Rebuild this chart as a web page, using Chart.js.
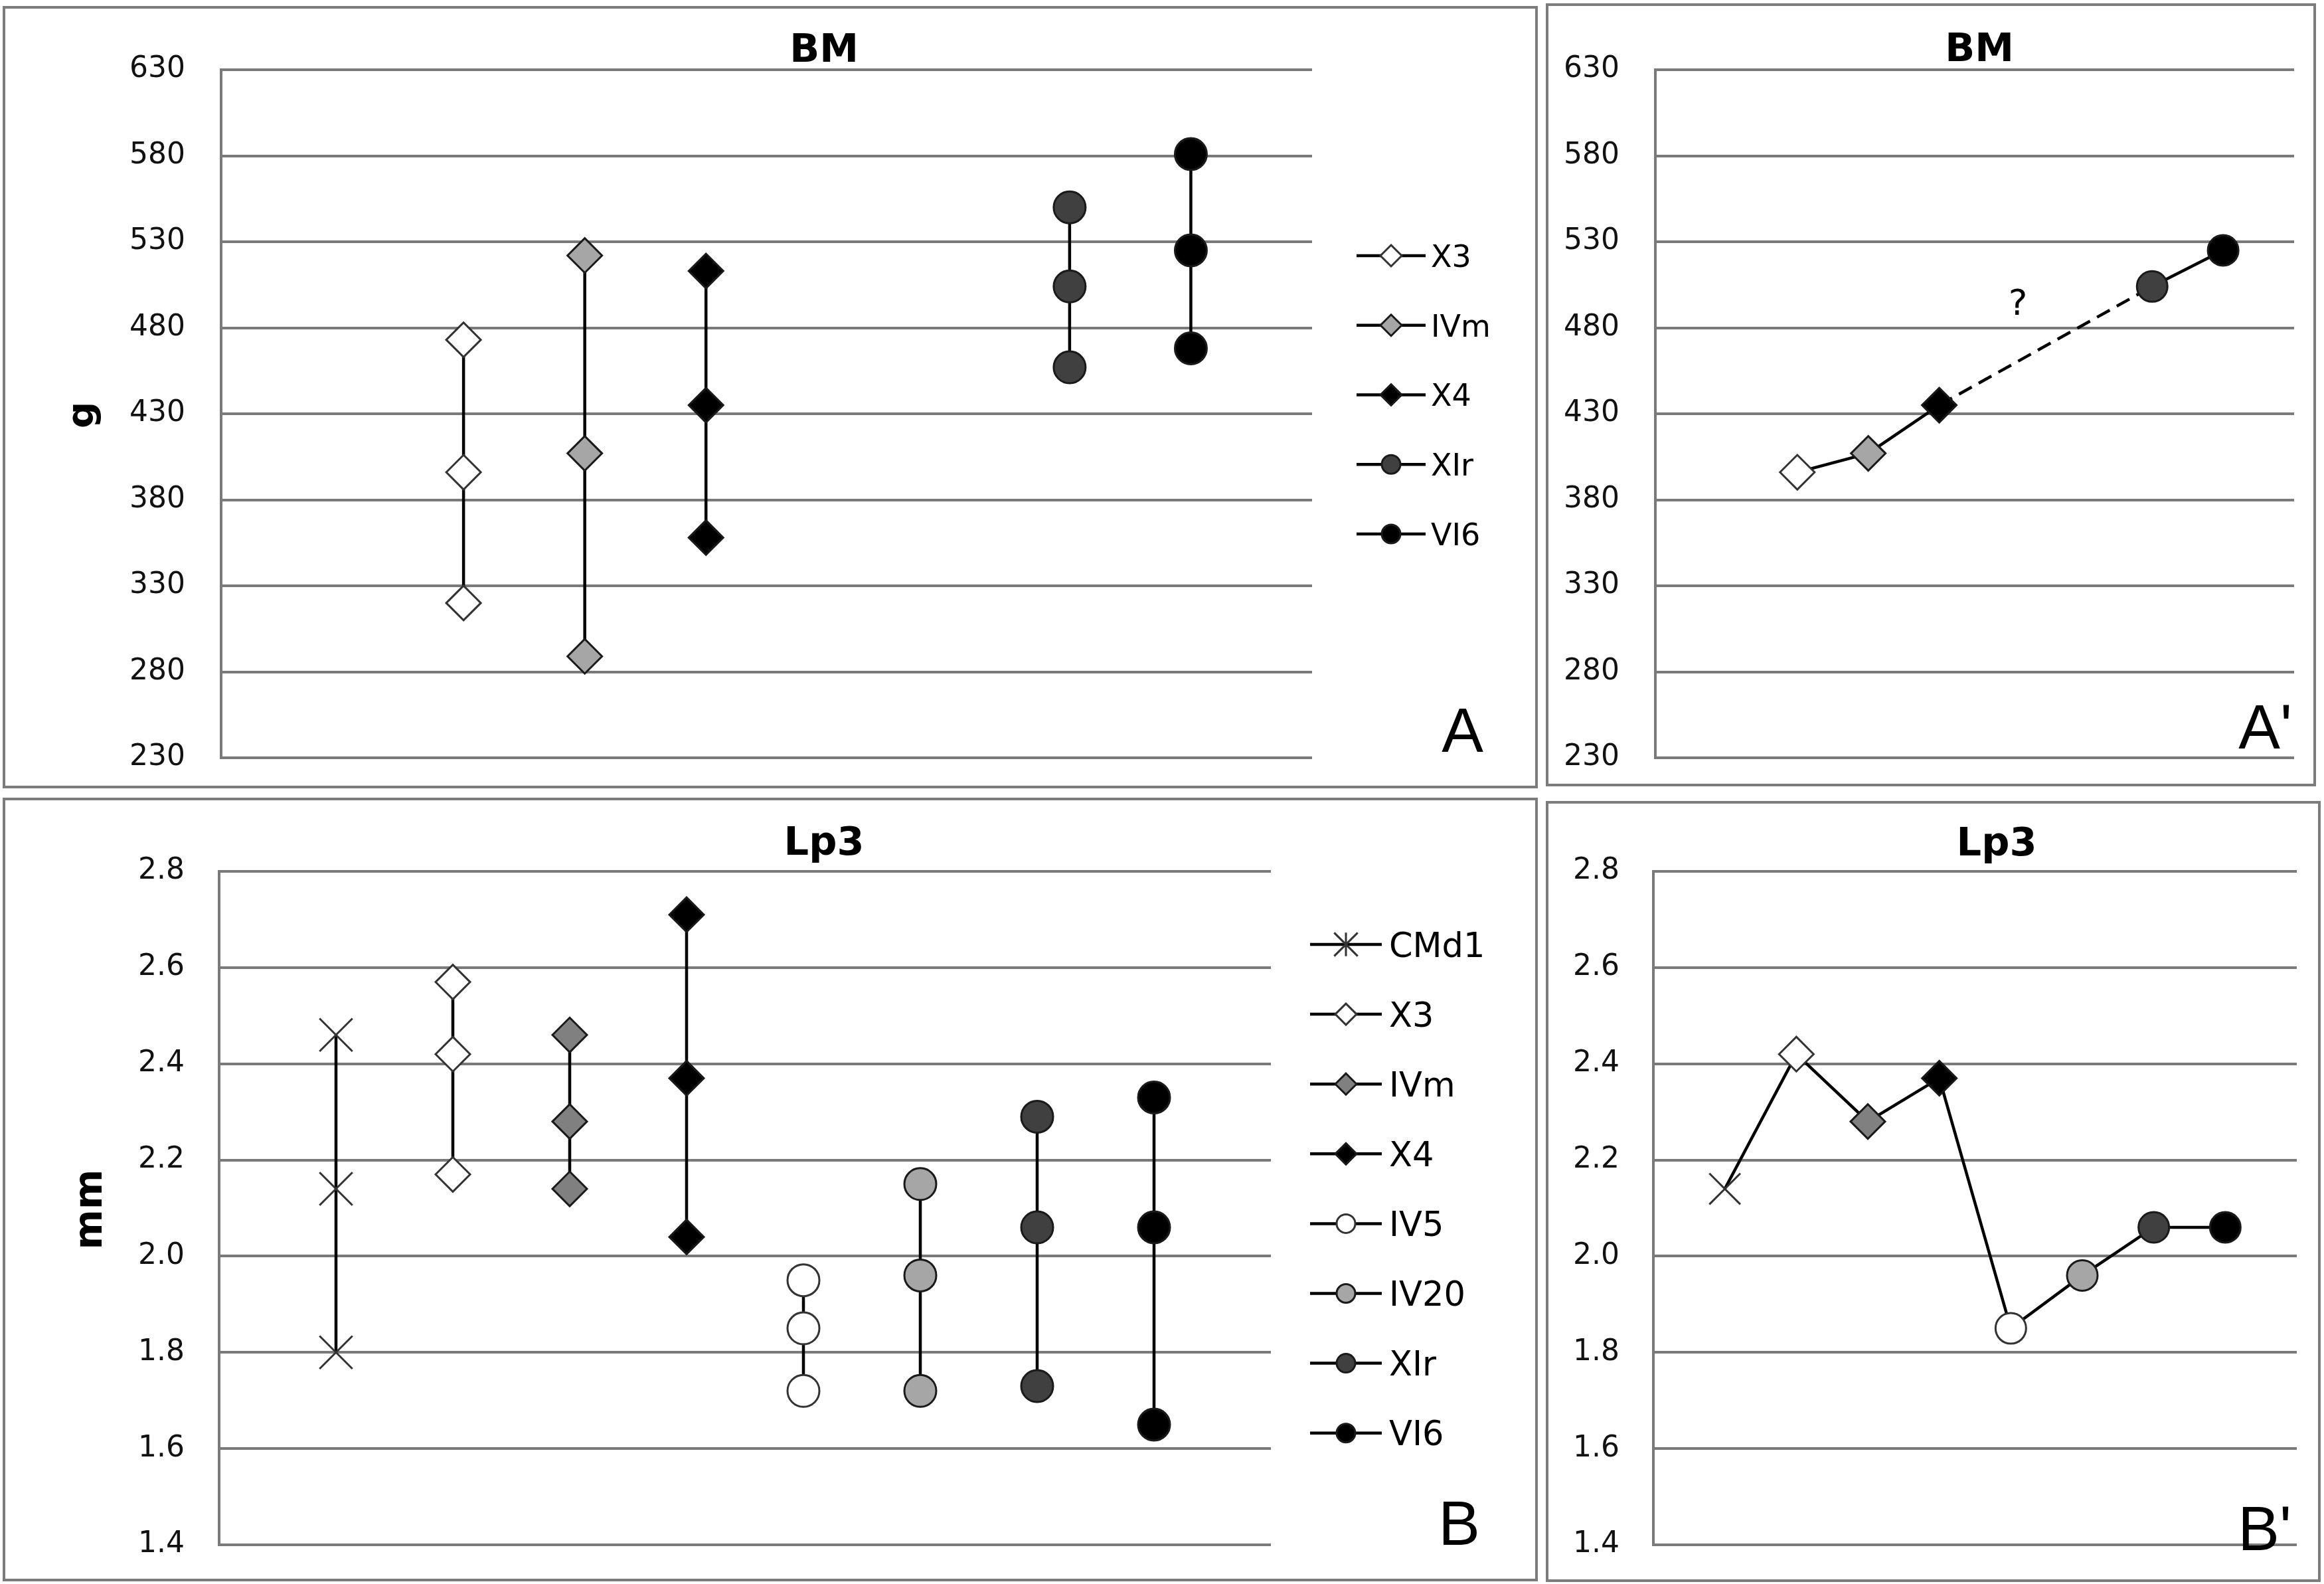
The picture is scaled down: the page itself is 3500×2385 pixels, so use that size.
<!DOCTYPE html>
<html><head><meta charset="utf-8">
<script src="https://cdn.jsdelivr.net/npm/chart.js@4.4.1/dist/chart.umd.min.js"></script>
<style>
html,body{margin:0;padding:0;background:#fff;width:3500px;height:2385px;overflow:hidden;}
.panel{position:absolute;}
.panel canvas{position:absolute;left:0;top:0;}
.frame{position:absolute;left:0;top:0;right:0;bottom:0;border:4px solid #7c7c7c;box-sizing:border-box;pointer-events:none;}
</style></head><body>
<div class="panel" style="left:4px;top:9px;width:2312px;height:1178px"><canvas id="cA" width="2312" height="1178"></canvas><div class="frame"></div></div>
<div class="panel" style="left:2328px;top:5px;width:1160px;height:1179px"><canvas id="cA2" width="1160" height="1179"></canvas><div class="frame"></div></div>
<div class="panel" style="left:4px;top:1201px;width:2312px;height:1180px"><canvas id="cB" width="2312" height="1180"></canvas><div class="frame"></div></div>
<div class="panel" style="left:2328px;top:1206px;width:1167px;height:1176px"><canvas id="cB2" width="1167" height="1176"></canvas><div class="frame"></div></div>
<script>
// ---------- data ----------
const bmGroups = ['X3', 'IVm', 'X4', 'XIr', 'VI6'];
const bmSlots  = [2, 3, 4, 7, 8];
const bmHigh   = [473, 522, 513, 550, 581];
const bmMid    = [396, 407, 435, 504, 525];
const bmLow    = [320, 289, 358, 457, 468];
const bmTicks  = [230, 280, 330, 380, 430, 480, 530, 580, 630];

const lpGroups = ['CMd1', 'X3', 'IVm', 'X4', 'IV5', 'IV20', 'XIr', 'VI6'];
const lpSlots  = [1, 2, 3, 4, 5, 6, 7, 8];
const lpHigh   = [2.46, 2.57, 2.46, 2.71, 1.95, 2.15, 2.29, 2.33];
const lpMid    = [2.14, 2.42, 2.28, 2.37, 1.85, 1.96, 2.06, 2.06];
const lpLow    = [1.80, 2.17, 2.14, 2.04, 1.72, 1.72, 1.73, 1.65];
const lpTicks  = [1.4, 1.6, 1.8, 2.0, 2.2, 2.4, 2.6, 2.8];

// ---------- styles ----------
const shapeOf = {CMd1:'crossRot', X3:'rectRot', IVm:'rectRot', X4:'rectRot', IV5:'circle', IV20:'circle', XIr:'circle', VI6:'circle'};
const fillBM = {X3:'#ffffff', IVm:'#a6a6a6', X4:'#000000', XIr:'#404040', VI6:'#000000'};
const fillLP = {CMd1:'rgba(0,0,0,0)', X3:'#ffffff', IVm:'#808080', X4:'#000000', IV5:'#ffffff', IV20:'#a6a6a6', XIr:'#404040', VI6:'#000000'};
const strokeOf = g => (g === 'X3' || g === 'IV5' || g === 'CMd1') ? '#333333' : '#1a1a1a';
const radiusOf = s => s === 'rectRot' ? 26 : (s === 'circle' ? 24 : 35);
const FONT = '"DejaVu Sans", sans-serif';
const GRID = '#7a7a7a';

function drawMarker(ctx, shape, x, y, r, fill, stroke, lw) {
  ctx.save();
  ctx.lineWidth = lw; ctx.strokeStyle = stroke; ctx.fillStyle = fill;
  ctx.beginPath();
  if (shape === 'rectRot') {
    ctx.moveTo(x, y - r); ctx.lineTo(x + r, y); ctx.lineTo(x, y + r); ctx.lineTo(x - r, y); ctx.closePath();
    ctx.fill(); ctx.stroke();
  } else if (shape === 'circle') {
    ctx.arc(x, y, r, 0, Math.PI * 2); ctx.fill(); ctx.stroke();
  } else {
    const d = r * 0.7071;
    ctx.moveTo(x - d, y - d); ctx.lineTo(x + d, y + d);
    ctx.moveTo(x + d, y - d); ctx.lineTo(x - d, y + d);
    ctx.moveTo(x, y - d); ctx.lineTo(x, y + d);
    ctx.stroke();
  }
  ctx.restore();
}

function makeDeco(d) {
  return {
    id: 'deco',
    afterDraw(chart) {
      const ctx = chart.ctx;
      ctx.save();
      ctx.fillStyle = '#000';
      ctx.textBaseline = 'alphabetic';
      ctx.font = 'bold 59px ' + FONT; ctx.textAlign = 'center';
      ctx.fillText(d.title, d.titleX, d.titleY + 0.3645 * 59);
      if (d.yTitle) {
        ctx.save();
        ctx.translate(d.yTitleX, d.yTitleY);
        ctx.rotate(-Math.PI / 2);
        ctx.font = 'bold ' + d.yTitleSize + 'px ' + FONT;
        ctx.textAlign = 'center';
        ctx.fillText(d.yTitle, 0, 0);
        ctx.restore();
      }
      if (d.legend) {
        const L = d.legend;
        L.groups.forEach((g, i) => {
          const y = L.y0 + i * L.dy;
          ctx.save();
          ctx.strokeStyle = '#000'; ctx.lineWidth = 4.5;
          ctx.beginPath(); ctx.moveTo(L.x1, y); ctx.lineTo(L.x2, y); ctx.stroke();
          ctx.restore();
          const s = shapeOf[g];
          const r = s === 'rectRot' ? 16 : (s === 'circle' ? 14 : 25);
          drawMarker(ctx, s, (L.x1 + L.x2) / 2, y, r, L.fills[g], strokeOf(g), 3);
          ctx.fillStyle = '#000';
          ctx.font = L.size + 'px ' + FONT; ctx.textAlign = 'left';
          ctx.fillText(g, L.xt, y + 0.3645 * L.size);
        });
      }
      if (d.note) {
        const xs = chart.scales.x, ys = chart.scales.y;
        ctx.font = '54px ' + FONT; ctx.textAlign = 'center'; ctx.textBaseline = 'middle';
        ctx.fillText(d.note.text, xs.getPixelForValue(d.note.x), ys.getPixelForValue(d.note.y));
        ctx.textBaseline = 'alphabetic';
      }
      ctx.font = '94px "Liberation Sans", Arial, sans-serif'; ctx.textAlign = 'right';
      ctx.fillText(d.letter, d.letterX, d.letterY);
      ctx.restore();
    }
  };
}

function makeOptions(c) {
  return {
    responsive: false, animation: false, devicePixelRatio: 1,
    events: [],
    layout: {padding: {left: 0, top: c.top, right: c.right, bottom: c.bottom}},
    plugins: {legend: {display: false}, tooltip: {enabled: false}, title: {display: false}},
    scales: {
      x: {type: 'linear', min: 0, max: 9, display: false,
          ticks: {display: false}, grid: {display: false, drawTicks: false},
          afterFit: s => { s.height = 0; s.paddingLeft = 0; s.paddingRight = 0; }},
      y: {
        type: 'linear', min: c.ticks[0], max: c.ticks[c.ticks.length - 1],
        afterFit: s => { s.width = c.axisW; s.paddingTop = 0; s.paddingBottom = 0; },
        afterBuildTicks: s => { s.ticks = c.ticks.map(v => ({value: v})); },
        grid: {color: GRID, lineWidth: 4, drawTicks: false},
        border: {display: true, color: GRID, width: 4},
        ticks: {padding: c.pad, color: '#111111', font: {family: 'DejaVu Sans', size: 44},
                callback: v => c.dec ? Number(v).toFixed(1) : String(v)}
      }
    }
  };
}

function groupDatasets(groups, slots, hi, mid, lo, fills) {
  return groups.map((g, i) => {
    const s = shapeOf[g];
    return {
      label: g,
      data: [{x: slots[i], y: hi[i]}, {x: slots[i], y: mid[i]}, {x: slots[i], y: lo[i]}],
      borderColor: '#000', borderWidth: 4.5, tension: 0, clip: false,
      pointStyle: s, pointRadius: radiusOf(s), pointBackgroundColor: fills[g],
      pointBorderColor: strokeOf(g), pointBorderWidth: 3
    };
  });
}

function meanDataset(groups, slots, mid, fills, dashedAfter) {
  const shapes = groups.map(g => shapeOf[g]);
  return [{
    label: 'mean',
    data: slots.map((s, i) => ({x: s, y: mid[i]})),
    borderColor: '#000', borderWidth: 4.5, tension: 0, clip: false,
    segment: {borderDash: ctx => (dashedAfter !== null && ctx.p0DataIndex === dashedAfter) ? [22, 12] : undefined},
    pointStyle: shapes,
    pointRadius: shapes.map(s => s === 'circle' ? 23 : (s === 'crossRot' ? 33 : 26)),
    pointBackgroundColor: groups.map(g => fills[g]),
    pointBorderColor: groups.map(g => strokeOf(g)),
    pointBorderWidth: 3
  }];
}

new Chart(document.getElementById('cA'), {
  type: 'line',
  data: {datasets: groupDatasets(bmGroups, bmSlots, bmHigh, bmMid, bmLow, fillBM)},
  options: makeOptions({top: 96, right: 340, bottom: 46, axisW: 329, pad: 54, ticks: bmTicks, dec: false}),
  plugins: [makeDeco({
    title: 'BM', titleX: 1237, titleY: 62,
    yTitle: 'g', yTitleX: 136, yTitleY: 616, yTitleSize: 56,
    letter: 'A', letterX: 2230, letterY: 1123,
    legend: {groups: bmGroups, fills: fillBM, x1: 2039, x2: 2143, xt: 2151, y0: 376, dy: 104.75, size: 46}
  })]
});

new Chart(document.getElementById('cA2'), {
  type: 'line',
  data: {datasets: meanDataset(bmGroups, bmSlots, bmMid, fillBM, 2)},
  options: makeOptions({top: 100, right: 33, bottom: 43, axisW: 165, pad: 54, ticks: bmTicks, dec: false}),
  plugins: [makeDeco({
    title: 'BM', titleX: 653, titleY: 65,
    letter: "A'", letterX: 1124, letterY: 1122,
    note: {text: '?', x: 5.11, y: 493}
  })]
});

new Chart(document.getElementById('cB'), {
  type: 'line',
  data: {datasets: groupDatasets(lpGroups, lpSlots, lpHigh, lpMid, lpLow, fillLP)},
  options: makeOptions({top: 111, right: 402, bottom: 55, axisW: 326, pad: 52, ticks: lpTicks, dec: true}),
  plugins: [makeDeco({
    title: 'Lp3', titleX: 1237, titleY: 64,
    yTitle: 'mm', yTitleX: 149, yTitleY: 620, yTitleSize: 58,
    letter: 'B', letterX: 2225, letterY: 1125,
    legend: {groups: lpGroups, fills: fillLP, x1: 1969, x2: 2077, xt: 2088, y0: 221, dy: 105.1, size: 51}
  })]
});

new Chart(document.getElementById('cB2'), {
  type: 'line',
  data: {datasets: meanDataset(lpGroups, lpSlots, lpMid, fillLP, null)},
  options: makeOptions({top: 106, right: 35, bottom: 56, axisW: 162, pad: 51, ticks: lpTicks, dec: true}),
  plugins: [makeDeco({
    title: 'Lp3', titleX: 679, titleY: 60,
    letter: "B'", letterX: 1123, letterY: 1128
  })]
});
</script>
</body></html>
